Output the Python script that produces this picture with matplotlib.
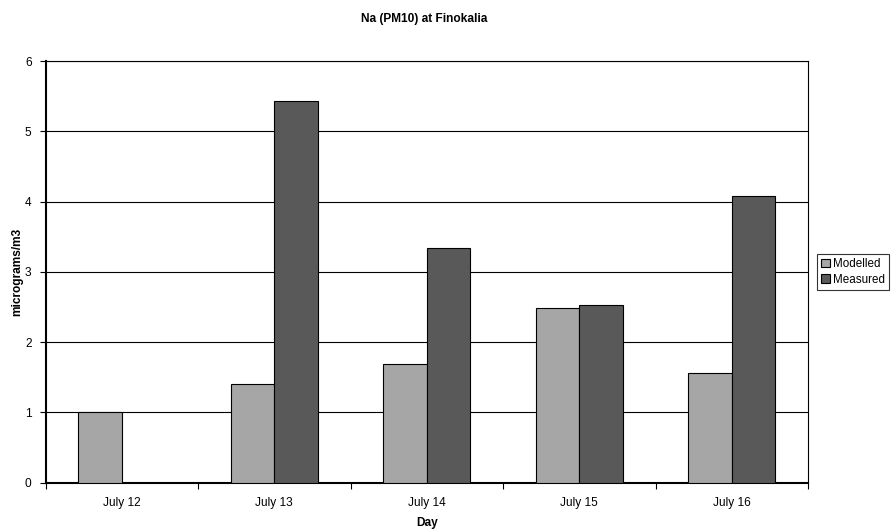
import matplotlib
matplotlib.use("Agg")
import matplotlib.pyplot as plt
import numpy as np

days = ["July 12", "July 13", "July 14", "July 15", "July 16"]
modelled = [1.0, 1.41, 1.69, 2.49, 1.56]
measured = [0.0, 5.43, 3.34, 2.53, 4.08]
series_names = ["Modelled", "Measured"]
yticks = [0, 1, 2, 3, 4, 5, 6]

plt.rcParams["font.family"] = ["Liberation Sans", "DejaVu Sans"]
plt.rcParams["font.size"] = 8.6

fig = plt.figure(figsize=(8.91, 5.30), dpi=100)
ax = fig.add_axes([45.5 / 891, 1 - 482.7 / 530, (808 - 45.5) / 891, (482.7 - 61) / 530])

x = np.arange(len(days))
w = 1 / 3.5
ax.bar(x - w / 2, modelled, width=w, color="#a6a6a6", edgecolor="black", linewidth=0.8,
       label=series_names[0], zorder=3)
ax.bar(x + w / 2, measured, width=w, color="#595959", edgecolor="black", linewidth=0.8,
       label=series_names[1], zorder=3)

ax.set_xlim(-0.5, len(days) - 0.5)
ax.set_ylim(0, 6)
ax.set_yticks(yticks)
ax.set_xticks(x)
ax.set_xticklabels(days)
ax.set_xticks(np.arange(len(days) + 1) - 0.5, minor=True)
ax.tick_params(axis="x", which="major", length=0, pad=10.5)
ax.tick_params(axis="x", which="minor", length=4, width=0.8, direction="out")
ax.tick_params(axis="y", length=4, width=0.8, direction="out", pad=6)
ax.yaxis.grid(True, color="black", linewidth=0.8, zorder=0)
ax.set_axisbelow(True)
for s in ax.spines.values():
    s.set_color("black")
    s.set_linewidth(0.8)
ax.spines["bottom"].set_linewidth(1.5)
ax.spines["left"].set_linewidth(1.5)

ax.set_xlabel("Day", fontweight="bold")
ax.set_ylabel("micrograms/m3", fontweight="bold")
ax.xaxis.set_label_coords(0.5, (482.7 - 517) / 421.7)
ax.yaxis.set_label_coords((23 - 45.5) / 762.5, 0.5)
fig.text(424 / 891, 1 - 19 / 530, "Na (PM10) at Finokalia", ha="center", va="center",
         fontweight="bold", fontsize=8.6)

leg = fig.legend(loc="upper left", bbox_to_anchor=(817 / 891, 1 - 254 / 530),
                 frameon=True, fancybox=False, edgecolor="black", handlelength=0.75,
                 handleheight=0.75, handletextpad=0.25, borderpad=0.35, labelspacing=0.3,
                 borderaxespad=0, fontsize=8.4)
leg.get_frame().set_linewidth(0.8)

fig.savefig("out.png", dpi=100)
